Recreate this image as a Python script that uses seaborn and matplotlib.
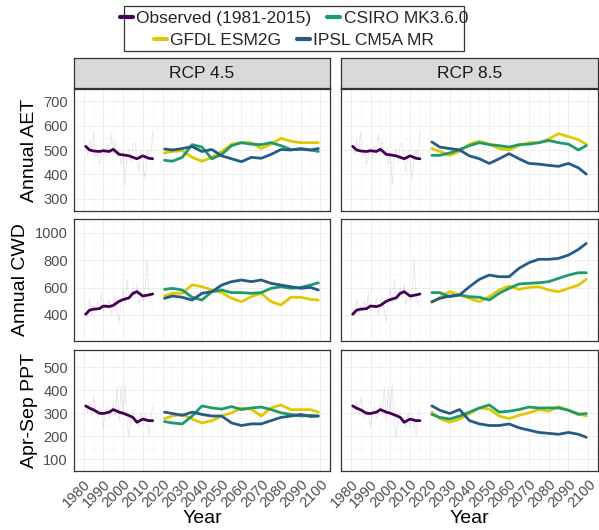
import numpy as np
import pandas as pd
import matplotlib
matplotlib.use("Agg")
import matplotlib.pyplot as plt
import seaborn as sns
from matplotlib.lines import Line2D
from matplotlib.patches import Rectangle

sns.set_style("white")
plt.rcParams["font.family"] = ["Liberation Sans", "DejaVu Sans"]

# ---------------- data ----------------
VARIABLES = ["Annual AET", "Annual CWD", "Apr-Sep PPT"]
SCENARIOS = ["RCP 4.5", "RCP 8.5"]
SOURCES = ["Observed (1981-2015)", "CSIRO MK3.6.0", "GFDL ESM2G", "IPSL CM5A MR"]
COLORS = ["#440154", "#1E9B6C", "#E2C800", "#265C84"]

# observed annual values (thin lines)
OBS_YEARS_ANNUAL = list(range(1981, 2016))
obs_aet_annual = [520, 480, 540, 500, 573, 470, 490, 439, 480, 510, 470, 520, 490, 567, 480,
                  536, 470, 500, 440, 490, 355, 470, 507, 450, 520, 530, 470, 409, 500, 450,
                  380, 470, 500, 460, 580]
obs_cwd_annual = [450, 380, 520, 400, 470, 430, 500, 440, 560, 420, 480, 450, 520, 400, 470,
                  540, 430, 340, 520, 590, 480, 660, 500, 560, 600, 520, 620, 470, 560, 500,
                  530, 810, 560, 480, 470]
obs_ppt_annual = [320, 300, 350, 290, 370, 330, 280, 320, 300, 240, 310, 330, 280, 300, 340,
                  290, 418, 260, 411, 300, 425, 260, 193, 290, 300, 260, 280, 240, 300, 250,
                  290, 270, 206, 270, 330]

# observed running mean (thick line)
OBS_YEARS = [1981, 1983, 1985, 1988, 1990, 1993, 1995, 1998, 2000, 2003, 2005, 2007, 2010, 2013, 2015]
obs_aet = [515, 500, 496, 494, 497, 494, 503, 482, 480, 476, 470, 464, 476, 466, 464]
obs_cwd = [405, 435, 442, 446, 465, 461, 470, 500, 512, 525, 558, 570, 538, 546, 553]
obs_ppt = [332, 322, 315, 300, 299, 305, 316, 305, 300, 290, 282, 261, 275, 268, 268]

# projected running means (thick lines)
MOD_YEARS = [2021, 2025, 2030, 2035, 2040, 2045, 2050, 2055, 2060, 2065, 2070, 2075, 2080,
             2085, 2090, 2095, 2099]

aet45_csiro = [458, 454, 470, 522, 512, 464, 482, 518, 530, 524, 522, 530, 518, 502, 502, 500, 494]
aet45_gfdl = [488, 494, 497, 470, 454, 470, 494, 524, 530, 530, 506, 524, 548, 536, 530, 530, 530]
aet45_ipsl = [504, 500, 506, 514, 494, 502, 476, 464, 452, 470, 466, 482, 502, 500, 506, 500, 506]
aet85_csiro = [478, 478, 488, 502, 518, 530, 522, 518, 512, 522, 524, 530, 539, 530, 524, 500, 518]
aet85_gfdl = [506, 494, 478, 494, 524, 536, 524, 506, 500, 518, 530, 530, 545, 567, 555, 542, 524]
aet85_ipsl = [533, 512, 506, 500, 476, 464, 445, 464, 485, 464, 445, 442, 437, 433, 445, 427, 401]

cwd45_csiro = [587, 594, 582, 529, 509, 570, 582, 563, 563, 558, 563, 594, 606, 594, 601, 618, 635]
cwd45_gfdl = [538, 558, 558, 620, 606, 582, 563, 521, 497, 533, 558, 497, 473, 529, 529, 514, 509]
cwd45_ipsl = [521, 538, 529, 509, 558, 570, 618, 643, 655, 643, 655, 631, 618, 606, 594, 601, 582]
cwd85_csiro = [563, 563, 533, 546, 533, 529, 509, 558, 594, 626, 631, 635, 643, 667, 691, 708, 708]
cwd85_gfdl = [490, 529, 570, 546, 521, 497, 533, 582, 611, 587, 601, 606, 582, 570, 594, 618, 660]
cwd85_ipsl = [497, 521, 538, 546, 606, 660, 691, 679, 679, 740, 781, 806, 806, 813, 837, 878, 922]

ppt45_csiro = [264, 258, 254, 288, 332, 323, 318, 329, 316, 323, 327, 316, 302, 295, 288, 291, 288]
ppt45_gfdl = [277, 288, 295, 275, 258, 268, 288, 302, 323, 318, 288, 323, 336, 316, 316, 316, 305]
ppt45_ipsl = [305, 299, 291, 305, 295, 288, 288, 258, 247, 254, 254, 268, 282, 288, 295, 286, 288]
ppt85_csiro = [295, 282, 275, 288, 305, 323, 336, 305, 309, 316, 327, 323, 323, 323, 313, 295, 299]
ppt85_gfdl = [305, 277, 261, 275, 299, 323, 318, 288, 277, 291, 302, 316, 309, 329, 313, 299, 288]
ppt85_ipsl = [332, 313, 299, 316, 268, 254, 247, 247, 254, 237, 227, 217, 213, 209, 217, 209, 196]

YLIMS = [(278, 722), (210, 1100), (87, 574)]
YTICKS = [[300, 400, 500, 600, 700], [400, 600, 800, 1000], [100, 200, 300, 400, 500]]
XTICKS = list(range(1980, 2101, 10))

# ---------------- long tables ----------------
obs_thick = {"Annual AET": obs_aet, "Annual CWD": obs_cwd, "Apr-Sep PPT": obs_ppt}
obs_thin = {"Annual AET": obs_aet_annual, "Annual CWD": obs_cwd_annual, "Apr-Sep PPT": obs_ppt_annual}
models = {
    ("Annual AET", "RCP 4.5"): [aet45_csiro, aet45_gfdl, aet45_ipsl],
    ("Annual AET", "RCP 8.5"): [aet85_csiro, aet85_gfdl, aet85_ipsl],
    ("Annual CWD", "RCP 4.5"): [cwd45_csiro, cwd45_gfdl, cwd45_ipsl],
    ("Annual CWD", "RCP 8.5"): [cwd85_csiro, cwd85_gfdl, cwd85_ipsl],
    ("Apr-Sep PPT", "RCP 4.5"): [ppt45_csiro, ppt45_gfdl, ppt45_ipsl],
    ("Apr-Sep PPT", "RCP 8.5"): [ppt85_csiro, ppt85_gfdl, ppt85_ipsl],
}

thick_rows, thin_rows = [], []
for var in VARIABLES:
    for sc in SCENARIOS:
        for y, v in zip(OBS_YEARS, obs_thick[var]):
            thick_rows.append((var, sc, SOURCES[0], y, v))
        for y, v in zip(OBS_YEARS_ANNUAL, obs_thin[var]):
            thin_rows.append((var, sc, SOURCES[0], y, v))
        for src, vals in zip(SOURCES[1:], models[(var, sc)]):
            for y, v in zip(MOD_YEARS, vals):
                thick_rows.append((var, sc, src, y, v))
cols = ["Variable", "Scenario", "Source", "Year", "Value"]
thick = pd.DataFrame(thick_rows, columns=cols)
thin = pd.DataFrame(thin_rows, columns=cols)
palette = dict(zip(SOURCES, COLORS))

# ---------------- figure ----------------
W, H = 599, 530
fig = plt.figure(figsize=(W / 100, H / 100), dpi=100)

col_x = [(74, 330), (341, 598)]
row_y = [(89, 211), (219, 341), (350, 471)]

def fx(px):
    return px / W

def fy(py):
    return 1 - py / H

for r, var in enumerate(VARIABLES):
    for c, sc in enumerate(SCENARIOS):
        x0, x1 = col_x[c]
        y0, y1 = row_y[r]
        ax = fig.add_axes([fx(x0), fy(y1), fx(x1 - x0), (y1 - y0) / H])
        sub_thin = thin[(thin.Variable == var) & (thin.Scenario == sc)]
        sub = thick[(thick.Variable == var) & (thick.Scenario == sc)]
        sns.lineplot(data=sub_thin, x="Year", y="Value", hue="Source", palette=palette,
                     estimator=None, linewidth=0.6, alpha=0.11, legend=False, ax=ax)
        sns.lineplot(data=sub, x="Year", y="Value", hue="Source", palette=palette,
                     hue_order=[SOURCES[0], SOURCES[2], SOURCES[1], SOURCES[3]],
                     estimator=None, linewidth=2.0, legend=False, ax=ax)
        ax.set_xlim(1975.1, 2104.9)
        ax.set_ylim(*YLIMS[r])
        ax.set_xticks(XTICKS)
        ax.set_yticks(YTICKS[r])
        ax.set_xticks([x + 5 for x in XTICKS[:-1]], minor=True)
        step = YTICKS[r][1] - YTICKS[r][0]
        ax.set_yticks([t + step / 2 for t in [YTICKS[r][0] - step] + YTICKS[r]], minor=True)
        ax.grid(True, which="major", color="#EBEBEB", linewidth=0.6)
        ax.grid(True, which="minor", color="#F5F5F5", linewidth=0.4)
        ax.set_axisbelow(True)
        for s in ax.spines.values():
            s.set_color("#333333")
            s.set_linewidth(0.9)
        ax.tick_params(which="major", length=3, width=0.8, color="#333333",
                       labelsize=10.5, labelcolor="#4D4D4D", pad=1.5)
        ax.tick_params(which="minor", length=0)
        ax.set_xlabel("")
        ax.set_ylabel("")
        if c == 0:
            ax.set_ylabel(var, fontsize=14, color="black", labelpad=4)
        else:
            ax.tick_params(axis="y", labelleft=False)
        if r == 2:
            for lab in ax.get_xticklabels():
                lab.set_rotation(45)
                lab.set_ha("right")
                lab.set_rotation_mode("anchor")
            ax.set_xlabel("Year", fontsize=14, color="black", labelpad=0)
        else:
            ax.tick_params(axis="x", labelbottom=False)

# strips
for c, sc in enumerate(SCENARIOS):
    x0, x1 = col_x[c]
    sax = fig.add_axes([fx(x0), fy(88), fx(x1 - x0), 30 / H])
    sax.set_facecolor("#D9D9D9")
    sax.set_xticks([])
    sax.set_yticks([])
    for s in sax.spines.values():
        s.set_color("#333333")
        s.set_linewidth(0.9)
    sax.text(0.5, 0.5, sc, ha="center", va="center", fontsize=12.5, color="#1A1A1A",
             transform=sax.transAxes)

# legend (two centred rows inside one box)
fig.patches.append(Rectangle((fx(124), fy(51)), fx(340), 45 / H, transform=fig.transFigure,
                             fill=False, edgecolor="#333333", linewidth=0.9))
handles = [Line2D([], [], color=col, linewidth=3) for col in COLORS]
for row_idx, yc in enumerate([18.5, 40]):
    idx = [0, 1] if row_idx == 0 else [2, 3]
    fig.legend([handles[i] for i in idx], [SOURCES[i] for i in idx], loc="center",
               bbox_to_anchor=(fx(294), fy(yc)), ncol=2, frameon=False, fontsize=12.5,
               handlelength=0.75, handletextpad=0.2, columnspacing=0.9,
               borderpad=0, borderaxespad=0)

fig.savefig("out.png", dpi=100)
